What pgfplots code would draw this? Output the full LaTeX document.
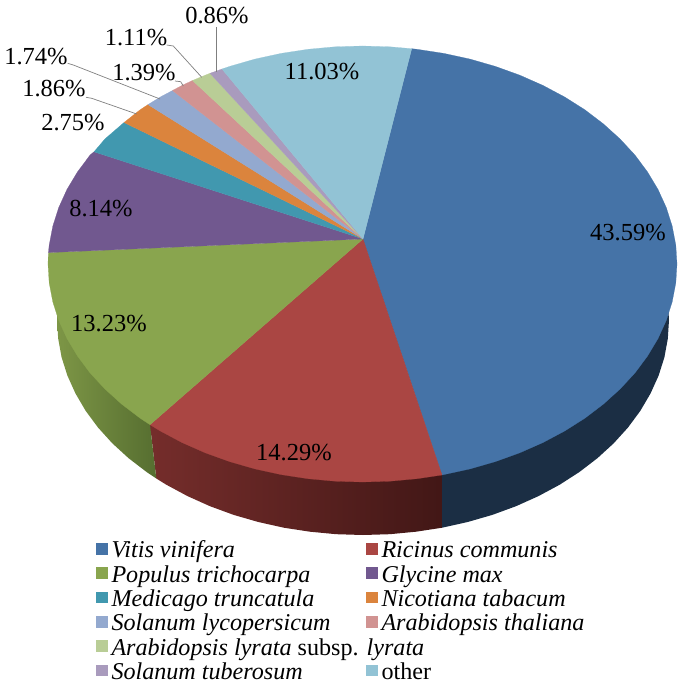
\documentclass[border=0pt]{standalone}
\usepackage{fontspec}
\setmainfont{Liberation Serif}
\usepackage{pgfplots}
\pgfplotsset{compat=1.18}
\definecolor{cBlue}{HTML}{4573A7}
\definecolor{cRed}{HTML}{AA4643}
\definecolor{cGreen}{HTML}{89A54E}
\definecolor{cPurple}{HTML}{71588F}
\definecolor{cTeal}{HTML}{4198AF}
\definecolor{cOrange}{HTML}{DB843D}
\definecolor{cLtBlue}{HTML}{93A9CF}
\definecolor{cPink}{HTML}{D19392}
\definecolor{cLtGreen}{HTML}{B9CD96}
\definecolor{cLav}{HTML}{A99BBD}
\definecolor{cOther}{HTML}{92C3D5}
\definecolor{cLead}{HTML}{7F7F7F}
\definecolor{sBlue}{HTML}{1B2E44}
\definecolor{sRedL}{HTML}{752D2B}
\definecolor{sRedR}{HTML}{421716}
\definecolor{sGreenL}{HTML}{7D9646}
\definecolor{sGreenR}{HTML}{566E30}
\newcommand{\legtxt}[1]{\makebox[250.5bp][l]{#1}}
\newcommand{\pcttxt}[1]{\fontsize{24.6}{28}\selectfont #1}
\begin{document}
\begin{tikzpicture}
\begin{axis}[
  at={(0,0)},anchor=south west,
  width=685bp,height=687bp,scale only axis,
  xmin=0,xmax=685,ymin=0,ymax=687,y dir=reverse,
  hide axis,clip=false,
  legend columns=2,
  legend cell align=left,
  legend image code/.code={\fill[#1,draw=none] (0bp,-1.5bp) rectangle (11.5bp,10bp);},
  legend style={at={(axis cs:96,543)},anchor=north west,draw=none,fill=none,inner sep=0pt,outer sep=0pt,
    font=\fontsize{24.2}{26}\selectfont,
    column sep=4bp,row sep=4.6bp,
    nodes={inner sep=0pt,outer sep=0pt,text height=14.5bp,text depth=5bp}},
]
% sides
\addplot[forget plot,draw=none,fill=sBlue] coordinates {(363,239)(667.8,301.3)(669,320)(667.8,338.7)(664.4,357.3)(658.6,375.6)(650.5,393.5)(640.3,410.9)(628,427.5)(613.7,443.3)(597.4,458.2)(579.4,472)(559.7,484.7)(538.5,496.1)(516,506.2)(492.3,514.9)(467.7,522)(442.2,527.7)(442,475)};
\addplot[forget plot,draw=none,left color=sRedL,right color=sRedR] coordinates {(442,475)(442.2,527.7)(416.1,531.7)(389.7,534.2)(363,535)(336.3,534.2)(309.9,531.7)(283.8,527.7)(258.3,522)(233.7,514.9)(210,506.2)(187.5,496.1)(166.3,484.7)(156.3,478.5)(150,424.7)};
\addplot[forget plot,draw=none,left color=sGreenL,right color=sGreenR] coordinates {(150,424.7)(156.3,478.5)(146.6,472)(128.6,458.2)(112.3,443.3)(98,427.5)(85.7,410.9)(75.5,393.5)(67.4,375.6)(61.6,357.3)(58.2,338.7)(57,320)(58.2,301.3)(120,300)};
% top faces
\addplot[fill=cBlue,draw=cBlue,line width=.2pt] coordinates {(363,239)(411.7,48.7)(417.1,49.3)(443.9,53.4)(470.1,59.1)(495.4,66.4)(519.8,75.2)(542.9,85.4)(564.7,97)(584.9,109.8)(603.4,123.9)(620.1,139)(634.9,155)(647.5,171.9)(658,189.4)(666.3,207.6)(672.2,226.2)(675.8,245)(677,264)(675.8,283)(672.2,301.8)(666.3,320.4)(658,338.6)(647.5,356.1)(634.9,373)(620.1,389)(603.4,404.1)(584.9,418.2)(564.7,431)(542.9,442.6)(519.8,452.8)(495.4,461.6)(470.1,468.9)(442,475)(363,239)};
\addlegendentry{\legtxt{\textit{Vitis vinifera}}}
\addplot[fill=cRed,draw=cRed,line width=.2pt] coordinates {(363,239)(442,475)(417.1,478.7)(389.9,481.2)(362.5,482)(335.1,481.2)(307.9,478.7)(281.1,474.6)(254.9,468.9)(229.6,461.6)(205.2,452.8)(182.1,442.6)(160.3,431)(150,424.7)(363,239)};
\addlegendentry{\textit{Ricinus communis}}
\addplot[fill=cGreen,draw=cGreen,line width=.2pt] coordinates {(363,239)(150,424.7)(140.1,418.2)(121.6,404.1)(104.9,389)(90.1,373)(77.5,356.1)(67,338.6)(58.7,320.4)(52.8,301.8)(49.2,283)(48,264)(48.4,252.6)(363,239)};
\addlegendentry{\legtxt{\textit{Populus trichocarpa}}}
\addplot[fill=cPurple,draw=cPurple,line width=.2pt] coordinates {(363,239)(48.4,252.6)(49.2,245)(52.8,226.2)(58.7,207.6)(67,189.4)(77.5,171.9)(90.1,155)(94,151.8)(363,239)};
\addlegendentry{\textit{Glycine max}}
\addplot[fill=cTeal,draw=cTeal,line width=.2pt] coordinates {(363,239)(94,151.8)(104.9,139)(124,122.5)(363,239)};
\addlegendentry{\legtxt{\textit{Medicago truncatula}}}
\addplot[fill=cOrange,draw=cOrange,line width=.2pt] coordinates {(363,239)(124,122.5)(140.1,109.8)(148,104.6)(363,239)};
\addlegendentry{\textit{Nicotiana tabacum}}
\addplot[fill=cLtBlue,draw=cLtBlue,line width=.2pt] coordinates {(363,239)(148,104.6)(160.3,97)(172.5,90.5)(363,239)};
\addlegendentry{\legtxt{\textit{Solanum lycopersicum}}}
\addplot[fill=cPink,draw=cPink,line width=.2pt] coordinates {(363,239)(172.5,90.5)(182.1,85.4)(192.5,80.5)(363,239)};
\addlegendentry{\textit{Arabidopsis thaliana}}
\addplot[fill=cLtGreen,draw=cLtGreen,line width=.2pt] coordinates {(363,239)(192.5,80.5)(205.2,75.2)(210,73.3)(363,239)};
\addlegendentry{\legtxt{\textit{Arabidopsis lyrata} subsp. \textit{lyrata}}}
\addlegendimage{empty legend}
\addlegendentry{}
\addplot[fill=cLav,draw=cLav,line width=.2pt] coordinates {(363,239)(210,73.3)(222,69)(363,239)};
\addlegendentry{\legtxt{\textit{Solanum tuberosum}}}
\addplot[fill=cOther,draw=cOther,line width=.2pt] coordinates {(363,239)(222,69)(229.6,66.4)(254.9,59.1)(281.1,53.4)(307.9,49.3)(335.1,46.8)(362.5,46)(389.9,46.8)(411.7,48.7)(363,239)};
\addlegendentry{other}
% leader lines
\addplot[forget plot,cLead,line width=.7pt] coordinates {(216.7,27)(216.7,71.7)};
\addplot[forget plot,cLead,line width=.7pt] coordinates {(166.7,45)(173.3,46)(201.7,77.3)};
\addplot[forget plot,cLead,line width=.7pt] coordinates {(67.7,63.3)(73.3,65)(160,99)};
\addplot[forget plot,cLead,line width=.7pt] coordinates {(86,97.3)(91.7,98.3)(136.7,114)};
\addplot[forget plot,cLead,line width=.7pt] coordinates {(175,81)(180.7,81.7)(183.3,86)};
% value labels
\node[inner sep=0pt] at (axis cs:217,16) {\pcttxt{0.86\%}};
\node[inner sep=0pt] at (axis cs:136,38) {\pcttxt{1.11\%}};
\node[inner sep=0pt] at (axis cs:36,57) {\pcttxt{1.74\%}};
\node[inner sep=0pt] at (axis cs:144,73) {\pcttxt{1.39\%}};
\node[inner sep=0pt] at (axis cs:54,89) {\pcttxt{1.86\%}};
\node[inner sep=0pt] at (axis cs:73,123) {\pcttxt{2.75\%}};
\node[inner sep=0pt] at (axis cs:101,209) {\pcttxt{8.14\%}};
\node[inner sep=0pt] at (axis cs:322,72) {\pcttxt{11.03\%}};
\node[inner sep=0pt] at (axis cs:628,233) {\pcttxt{43.59\%}};
\node[inner sep=0pt] at (axis cs:109,324) {\pcttxt{13.23\%}};
\node[inner sep=0pt] at (axis cs:294,453) {\pcttxt{14.29\%}};
\end{axis}
\path (0,0) rectangle (685bp,687bp);
\end{tikzpicture}
\end{document}
